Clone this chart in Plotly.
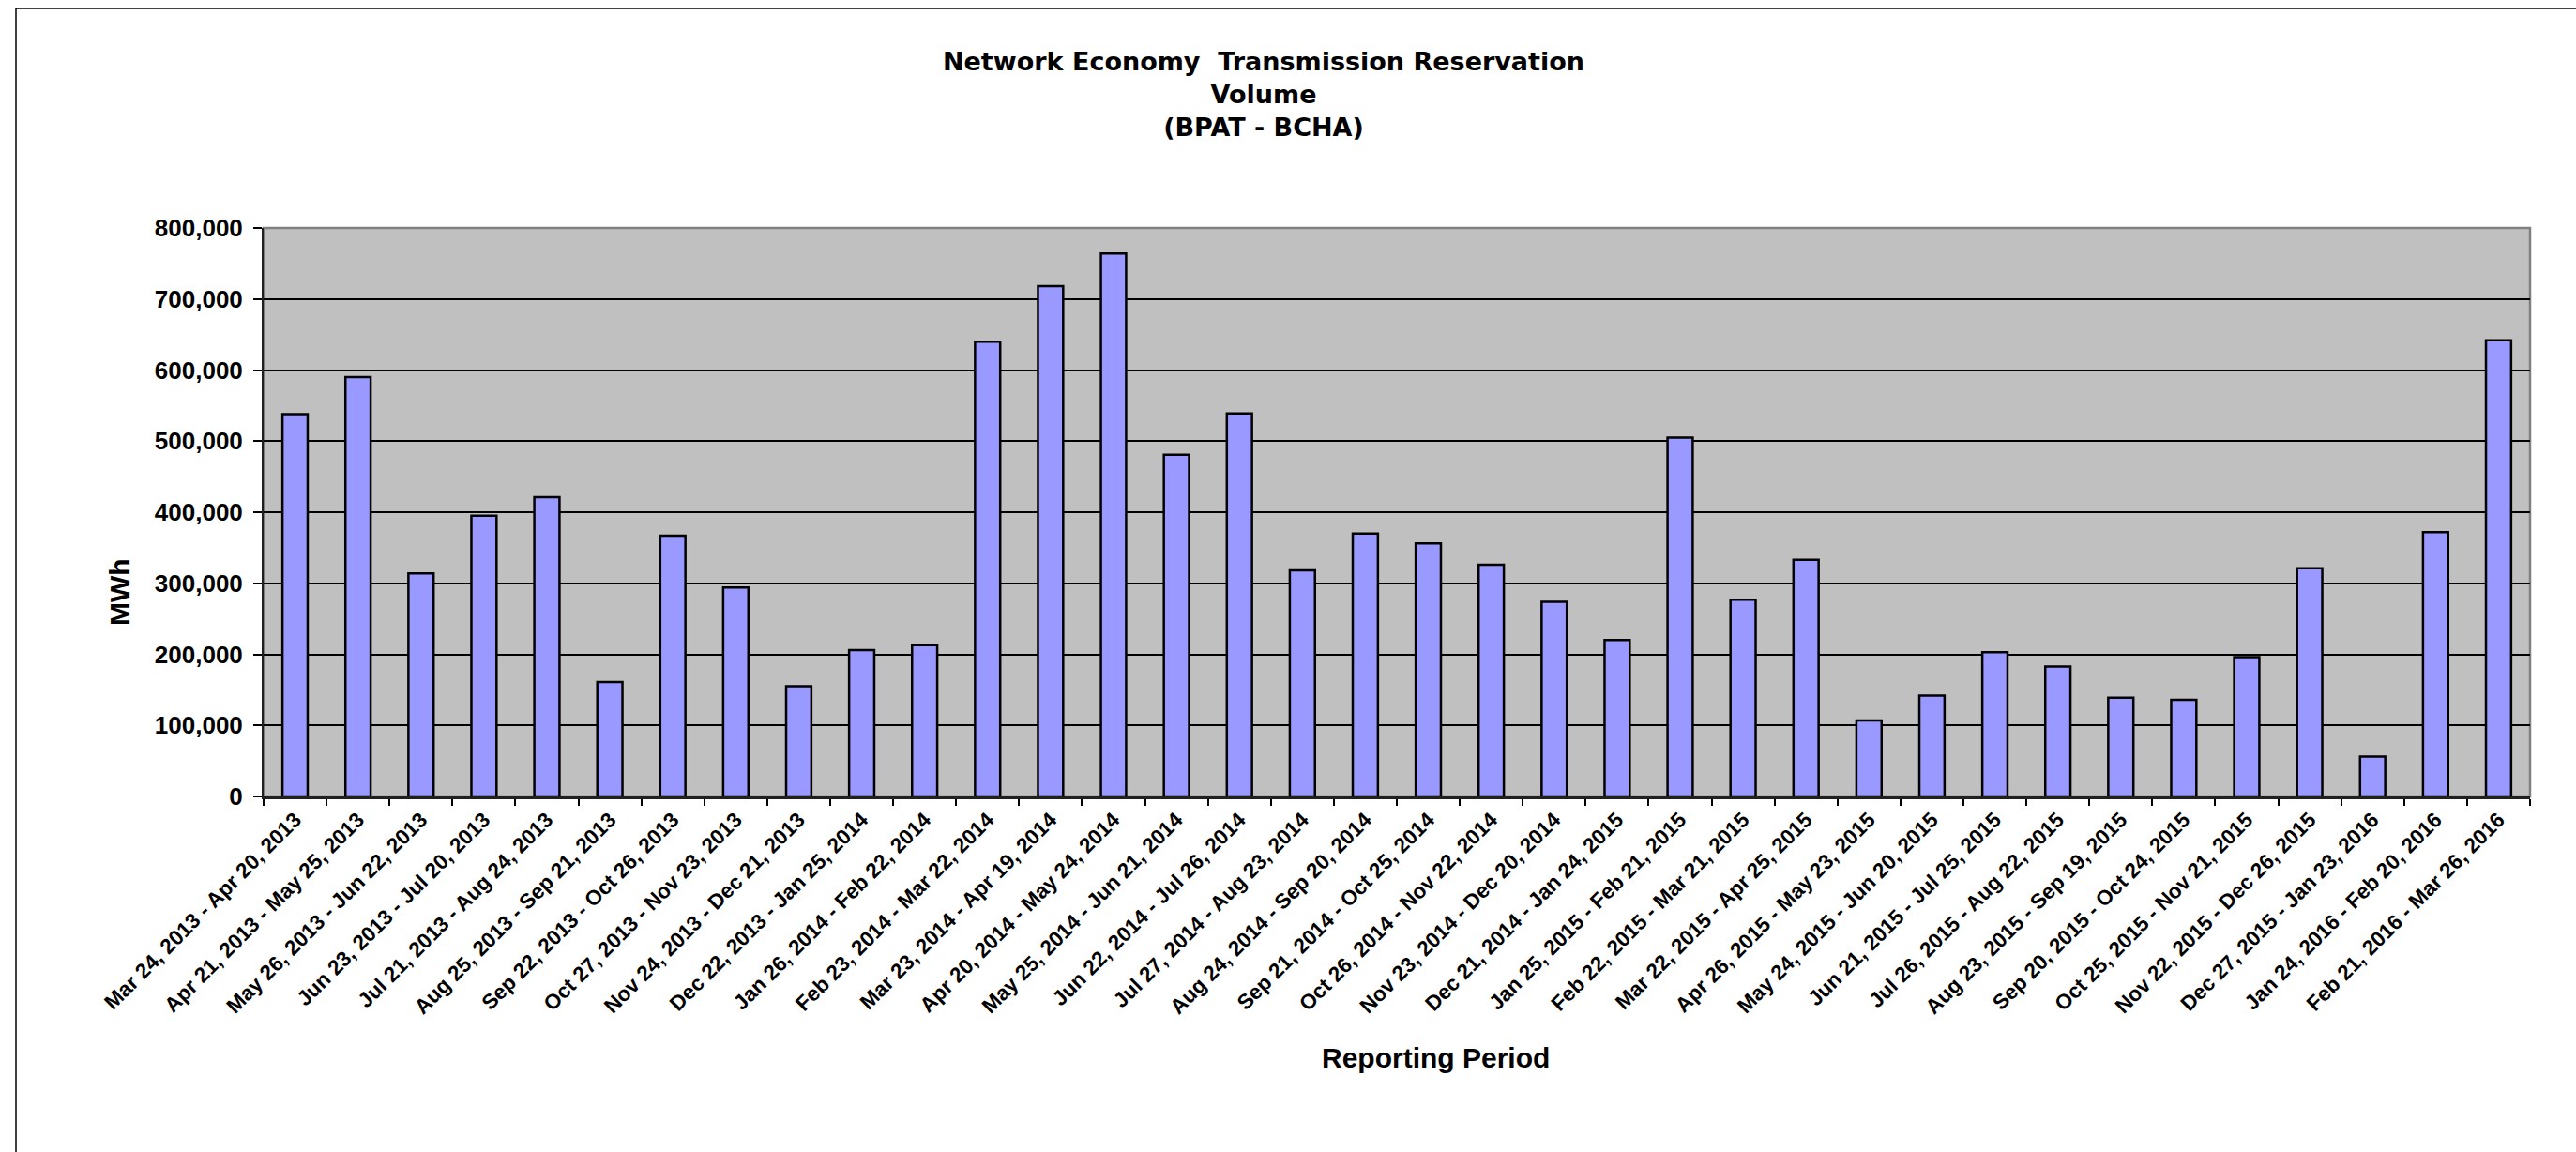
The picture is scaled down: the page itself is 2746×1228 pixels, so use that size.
import plotly.graph_objects as go

# ---------------- data ----------------
periods = [
    "Mar 24, 2013 - Apr 20, 2013",
    "Apr 21, 2013 - May 25, 2013",
    "May 26, 2013 - Jun 22, 2013",
    "Jun 23, 2013 - Jul 20, 2013",
    "Jul 21, 2013 - Aug 24, 2013",
    "Aug 25, 2013 - Sep 21, 2013",
    "Sep 22, 2013 - Oct 26, 2013",
    "Oct 27, 2013 - Nov 23, 2013",
    "Nov 24, 2013 - Dec 21, 2013",
    "Dec 22, 2013 - Jan 25, 2014",
    "Jan 26, 2014 - Feb 22, 2014",
    "Feb 23, 2014 - Mar 22, 2014",
    "Mar 23, 2014 - Apr 19, 2014",
    "Apr 20, 2014 - May 24, 2014",
    "May 25, 2014 - Jun 21, 2014",
    "Jun 22, 2014 - Jul 26, 2014",
    "Jul 27, 2014 - Aug 23, 2014",
    "Aug 24, 2014 - Sep 20, 2014",
    "Sep 21, 2014 - Oct 25, 2014",
    "Oct 26, 2014 - Nov 22, 2014",
    "Nov 23, 2014 - Dec 20, 2014",
    "Dec 21, 2014 - Jan 24, 2015",
    "Jan 25, 2015 - Feb 21, 2015",
    "Feb 22, 2015 - Mar 21, 2015",
    "Mar 22, 2015 - Apr 25, 2015",
    "Apr 26, 2015 - May 23, 2015",
    "May 24, 2015 - Jun 20, 2015",
    "Jun 21, 2015 - Jul 25, 2015",
    "Jul 26, 2015 - Aug 22, 2015",
    "Aug 23, 2015 - Sep 19, 2015",
    "Sep 20, 2015 - Oct 24, 2015",
    "Oct 25, 2015 - Nov 21, 2015",
    "Nov 22, 2015 - Dec 26, 2015",
    "Dec 27, 2015 - Jan 23, 2016",
    "Jan 24, 2016 - Feb 20, 2016",
    "Feb 21, 2016 - Mar 26, 2016",
]

volume_mwh = [
    538000, 590000, 314000, 395000, 421000, 161000, 367000, 294000, 155000,
    206000, 213000, 640000, 718000, 764000, 481000, 539000, 318000, 370000,
    356000, 326000, 274000, 220000, 505000, 277000, 333000, 107000, 142000,
    203000, 183000, 139000, 136000, 196000, 321000, 56000, 372000, 642000,
]

y_ticks = [0, 100000, 200000, 300000, 400000, 500000, 600000, 700000, 800000]

title_lines = ["Network Economy  Transmission Reservation", "Volume", "(BPAT - BCHA)"]
y_title = "MWh"
x_title = "Reporting Period"

# ---------------- layout geometry (pixels) ----------------
W, H = 2746, 1228
L, R, T, B = 281, 2697, 243, 849          # plot area edges
PW, PH = R - L, B - T


def px_x(px):
    return (px - L) / PW


def px_y(py):
    return (B - py) / PH


ARIAL = "Liberation Sans, Arial, sans-serif"
DEJAVU = "DejaVu Sans, sans-serif"

fig = go.Figure()
fig.add_trace(go.Bar(
    x=periods,
    y=volume_mwh,
    marker=dict(color="#9999FF", line=dict(color="#000000", width=2.5)),
    showlegend=False,
))

fig.update_layout(
    width=W,
    height=H,
    margin=dict(l=L, r=W - R, t=T, b=H - B, autoexpand=False),
    paper_bgcolor="#FFFFFF",
    plot_bgcolor="#C0C0C0",
    bargap=0.6,
    title=dict(
        text="<br>".join(title_lines),
        x=1347 / W,
        xref="container",
        xanchor="center",
        y=1 - 75 / H,
        yref="container",
        yanchor="top",
        font=dict(family=DEJAVU, size=27, color="#000000", weight="bold"),
    ),
    xaxis=dict(
        type="category",
        tickangle=-45,
        ticks="outside",
        tickson="boundaries",
        ticklen=7,
        tickwidth=1.5,
        tickcolor="#000000",
        showline=True,
        linecolor="#202020",
        linewidth=2.5,
        showgrid=False,
        tickfont=dict(family=ARIAL, size=22.5, color="#000000", weight="bold"),
    ),
    yaxis=dict(
        range=[0, 800000],
        tickvals=y_ticks,
        tickformat=",d",
        ticks="outside",
        ticklen=9,
        tickwidth=1.5,
        tickcolor="#000000",
        showline=True,
        linecolor="#202020",
        linewidth=2,
        showgrid=True,
        gridcolor="#000000",
        gridwidth=1.5,
        zeroline=False,
        ticklabelstandoff=6,
        tickfont=dict(family=ARIAL, size=26, color="#000000", weight="bold"),
    ),
    shapes=[
        # grey plot-area border (top / right)
        dict(type="rect", xref="paper", yref="paper", x0=0, y0=0, x1=1, y1=1,
             line=dict(color="#808080", width=2.5), layer="below"),
        # outer chart frame (top and left edges visible)
        dict(type="line", xref="paper", yref="paper",
             x0=px_x(17), y0=px_y(9), x1=px_x(W + 5), y1=px_y(9),
             line=dict(color="#000000", width=1.5)),
        dict(type="line", xref="paper", yref="paper",
             x0=px_x(17), y0=px_y(9), x1=px_x(17), y1=px_y(H + 5),
             line=dict(color="#000000", width=1.5)),
    ],
    annotations=[
        dict(text=y_title, textangle=-90, xref="paper", yref="paper",
             x=px_x(127), y=px_y(631), xanchor="center", yanchor="middle",
             showarrow=False,
             font=dict(family=ARIAL, size=30, color="#000000", weight="bold")),
        dict(text=x_title, xref="paper", yref="paper",
             x=px_x(1530), y=px_y(1127), xanchor="center", yanchor="middle",
             showarrow=False,
             font=dict(family=ARIAL, size=30, color="#000000", weight="bold")),
    ],
)

fig.write_html(
    "out.html",
    config={"displayModeBar": False},
    post_script="document.body.style.margin='0px';document.body.style.overflow='hidden';",
)
